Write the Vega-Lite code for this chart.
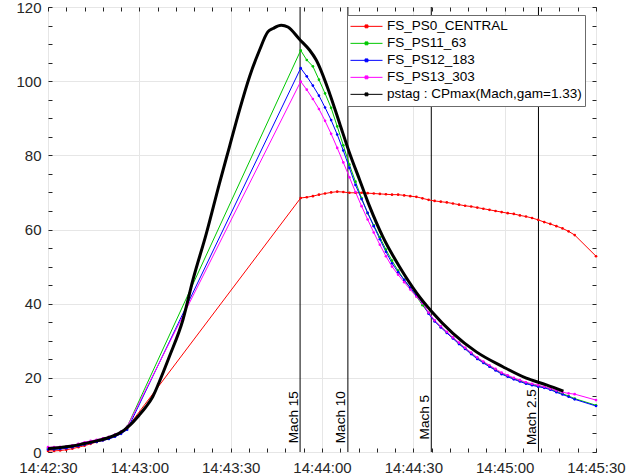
{
 "$schema": "https://vega.github.io/schema/vega-lite/v6.json",
 "width": 548,
 "height": 445,
 "autosize": "none",
 "padding": {"left": 48, "top": 7, "right": 31, "bottom": 23},
 "background": "white",
 "datasets": {
  "sensors": [
   {"t":0,"FS_PS0_CENTRAL":0.3,"FS_PS11_63":0.9,"FS_PS12_183":0.7,"FS_PS13_303":1.3},
   {"t":2,"FS_PS0_CENTRAL":0.3,"FS_PS11_63":1.0,"FS_PS12_183":0.7,"FS_PS13_303":1.3},
   {"t":4,"FS_PS0_CENTRAL":0.4,"FS_PS11_63":1.1,"FS_PS12_183":0.8,"FS_PS13_303":1.4},
   {"t":6,"FS_PS0_CENTRAL":0.6,"FS_PS11_63":1.3,"FS_PS12_183":1.0,"FS_PS13_303":1.5},
   {"t":8,"FS_PS0_CENTRAL":0.9,"FS_PS11_63":1.6,"FS_PS12_183":1.3,"FS_PS13_303":1.8},
   {"t":10,"FS_PS0_CENTRAL":1.3,"FS_PS11_63":2.0,"FS_PS12_183":1.6,"FS_PS13_303":2.2},
   {"t":12,"FS_PS0_CENTRAL":1.7,"FS_PS11_63":2.3,"FS_PS12_183":2.0,"FS_PS13_303":2.6},
   {"t":14,"FS_PS0_CENTRAL":2.2,"FS_PS11_63":2.7,"FS_PS12_183":2.4,"FS_PS13_303":3.0},
   {"t":16,"FS_PS0_CENTRAL":2.7,"FS_PS11_63":3.1,"FS_PS12_183":2.7,"FS_PS13_303":3.3},
   {"t":18,"FS_PS0_CENTRAL":3.2,"FS_PS11_63":3.5,"FS_PS12_183":3.1,"FS_PS13_303":3.7},
   {"t":20,"FS_PS0_CENTRAL":3.8,"FS_PS11_63":4.0,"FS_PS12_183":3.5,"FS_PS13_303":4.1},
   {"t":22,"FS_PS0_CENTRAL":4.5,"FS_PS11_63":4.6,"FS_PS12_183":4.1,"FS_PS13_303":4.7},
   {"t":24,"FS_PS0_CENTRAL":5.4,"FS_PS11_63":5.5,"FS_PS12_183":4.9,"FS_PS13_303":5.5},
   {"t":26,"FS_PS0_CENTRAL":6.5,"FS_PS11_63":6.8,"FS_PS12_183":6.0,"FS_PS13_303":6.8},
   {"t":83,"FS_PS0_CENTRAL":68.5,"FS_PS11_63":108.3,"FS_PS12_183":103.5,"FS_PS13_303":99.9},
   {"t":85,"FS_PS0_CENTRAL":68.7,"FS_PS11_63":105.7,"FS_PS12_183":101.3,"FS_PS13_303":97.7},
   {"t":87,"FS_PS0_CENTRAL":69.0,"FS_PS11_63":104.0,"FS_PS12_183":98.8,"FS_PS13_303":95.2},
   {"t":89,"FS_PS0_CENTRAL":69.4,"FS_PS11_63":100.4,"FS_PS12_183":96.1,"FS_PS13_303":92.5},
   {"t":91,"FS_PS0_CENTRAL":69.7,"FS_PS11_63":96.7,"FS_PS12_183":92.9,"FS_PS13_303":89.3},
   {"t":93,"FS_PS0_CENTRAL":70.0,"FS_PS11_63":92.8,"FS_PS12_183":89.5,"FS_PS13_303":85.8},
   {"t":95,"FS_PS0_CENTRAL":70.2,"FS_PS11_63":87.8,"FS_PS12_183":85.6,"FS_PS13_303":82.0},
   {"t":97,"FS_PS0_CENTRAL":70.1,"FS_PS11_63":82.7,"FS_PS12_183":81.3,"FS_PS13_303":78.1},
   {"t":99,"FS_PS0_CENTRAL":69.9,"FS_PS11_63":77.5,"FS_PS12_183":76.6,"FS_PS13_303":74.1},
   {"t":101,"FS_PS0_CENTRAL":69.9,"FS_PS11_63":72.9,"FS_PS12_183":72.0,"FS_PS13_303":70.1},
   {"t":103,"FS_PS0_CENTRAL":69.9,"FS_PS11_63":68.5,"FS_PS12_183":68.2,"FS_PS13_303":66.3},
   {"t":105,"FS_PS0_CENTRAL":69.8,"FS_PS11_63":64.4,"FS_PS12_183":64.5,"FS_PS13_303":62.7},
   {"t":107,"FS_PS0_CENTRAL":69.7,"FS_PS11_63":61.1,"FS_PS12_183":60.9,"FS_PS13_303":59.2},
   {"t":109,"FS_PS0_CENTRAL":69.6,"FS_PS11_63":57.9,"FS_PS12_183":57.4,"FS_PS13_303":55.9},
   {"t":111,"FS_PS0_CENTRAL":69.5,"FS_PS11_63":54.6,"FS_PS12_183":54.0,"FS_PS13_303":52.8},
   {"t":113,"FS_PS0_CENTRAL":69.4,"FS_PS11_63":51.6,"FS_PS12_183":50.9,"FS_PS13_303":50.0},
   {"t":115,"FS_PS0_CENTRAL":69.4,"FS_PS11_63":48.9,"FS_PS12_183":48.5,"FS_PS13_303":47.8},
   {"t":117,"FS_PS0_CENTRAL":69.2,"FS_PS11_63":46.4,"FS_PS12_183":46.4,"FS_PS13_303":45.8},
   {"t":119,"FS_PS0_CENTRAL":69.0,"FS_PS11_63":44.2,"FS_PS12_183":44.3,"FS_PS13_303":43.8},
   {"t":121,"FS_PS0_CENTRAL":68.8,"FS_PS11_63":42.0,"FS_PS12_183":42.3,"FS_PS13_303":41.9},
   {"t":123,"FS_PS0_CENTRAL":68.4,"FS_PS11_63":39.6,"FS_PS12_183":40.2,"FS_PS13_303":40.1},
   {"t":125,"FS_PS0_CENTRAL":68.0,"FS_PS11_63":37.5,"FS_PS12_183":37.3,"FS_PS13_303":37.6},
   {"t":127,"FS_PS0_CENTRAL":67.7,"FS_PS11_63":35.4,"FS_PS12_183":35.2,"FS_PS13_303":35.5},
   {"t":129,"FS_PS0_CENTRAL":67.5,"FS_PS11_63":33.8,"FS_PS12_183":33.6,"FS_PS13_303":33.9},
   {"t":131,"FS_PS0_CENTRAL":67.3,"FS_PS11_63":32.3,"FS_PS12_183":32.1,"FS_PS13_303":32.4},
   {"t":133,"FS_PS0_CENTRAL":67.0,"FS_PS11_63":30.8,"FS_PS12_183":30.6,"FS_PS13_303":30.9},
   {"t":135,"FS_PS0_CENTRAL":66.7,"FS_PS11_63":29.3,"FS_PS12_183":29.1,"FS_PS13_303":29.5},
   {"t":137,"FS_PS0_CENTRAL":66.4,"FS_PS11_63":28.0,"FS_PS12_183":27.8,"FS_PS13_303":28.1},
   {"t":139,"FS_PS0_CENTRAL":66.2,"FS_PS11_63":26.6,"FS_PS12_183":26.4,"FS_PS13_303":26.8},
   {"t":141,"FS_PS0_CENTRAL":65.9,"FS_PS11_63":25.3,"FS_PS12_183":25.1,"FS_PS13_303":25.5},
   {"t":143,"FS_PS0_CENTRAL":65.6,"FS_PS11_63":24.2,"FS_PS12_183":24.0,"FS_PS13_303":24.4},
   {"t":145,"FS_PS0_CENTRAL":65.3,"FS_PS11_63":23.2,"FS_PS12_183":23.0,"FS_PS13_303":23.4},
   {"t":147,"FS_PS0_CENTRAL":65.0,"FS_PS11_63":22.2,"FS_PS12_183":22.0,"FS_PS13_303":22.4},
   {"t":149,"FS_PS0_CENTRAL":64.7,"FS_PS11_63":21.2,"FS_PS12_183":21.0,"FS_PS13_303":21.4},
   {"t":151,"FS_PS0_CENTRAL":64.4,"FS_PS11_63":20.5,"FS_PS12_183":20.3,"FS_PS13_303":20.7},
   {"t":153,"FS_PS0_CENTRAL":64.2,"FS_PS11_63":19.8,"FS_PS12_183":19.6,"FS_PS13_303":20.0},
   {"t":155,"FS_PS0_CENTRAL":63.8,"FS_PS11_63":19.2,"FS_PS12_183":19.0,"FS_PS13_303":19.4},
   {"t":157,"FS_PS0_CENTRAL":63.5,"FS_PS11_63":18.6,"FS_PS12_183":18.4,"FS_PS13_303":18.8},
   {"t":159,"FS_PS0_CENTRAL":63.1,"FS_PS11_63":18.2,"FS_PS12_183":18.0,"FS_PS13_303":18.4},
   {"t":161,"FS_PS0_CENTRAL":62.6,"FS_PS11_63":17.8,"FS_PS12_183":17.6,"FS_PS13_303":18.0},
   {"t":163,"FS_PS0_CENTRAL":62.0,"FS_PS11_63":17.5,"FS_PS12_183":17.3,"FS_PS13_303":17.6},
   {"t":165,"FS_PS0_CENTRAL":61.5,"FS_PS11_63":17.0,"FS_PS12_183":16.8,"FS_PS13_303":17.1},
   {"t":167,"FS_PS0_CENTRAL":60.9,"FS_PS11_63":16.3,"FS_PS12_183":16.1,"FS_PS13_303":16.6},
   {"t":169,"FS_PS0_CENTRAL":60.3,"FS_PS11_63":15.7,"FS_PS12_183":15.5,"FS_PS13_303":16.1},
   {"t":171,"FS_PS0_CENTRAL":59.5,"FS_PS11_63":15.1,"FS_PS12_183":14.9,"FS_PS13_303":15.8},
   {"t":173,"FS_PS0_CENTRAL":58.5,"FS_PS11_63":14.4,"FS_PS12_183":14.2,"FS_PS13_303":15.6},
   {"t":180,"FS_PS0_CENTRAL":52.8,"FS_PS11_63":12.6,"FS_PS12_183":12.4,"FS_PS13_303":14.0}
  ],
  "pstag": [
   {"t":0,"v":0.9},{"t":4,"v":1.2},{"t":8,"v":1.6},{"t":12,"v":2.3},{"t":16,"v":3.0},
   {"t":20,"v":3.9},{"t":23,"v":4.9},{"t":25,"v":5.9},{"t":27,"v":7.3},{"t":30,"v":10.0},
   {"t":32,"v":12.0},{"t":34.4,"v":14.9},{"t":36.4,"v":18.6},{"t":40,"v":26.0},{"t":44.3,"v":35.6},
   {"t":47.6,"v":46.4},{"t":52,"v":58.9},{"t":56.3,"v":72.4},{"t":59.6,"v":82.3},{"t":62.9,"v":92.2},
   {"t":66.2,"v":101.2},{"t":69.5,"v":108.4},{"t":72.2,"v":113.3},{"t":73.9,"v":114.2},{"t":76.6,"v":115.1},
   {"t":78.8,"v":114.6},{"t":82.6,"v":111.3},{"t":85.9,"v":108.4},{"t":88.1,"v":105.7},{"t":92.5,"v":96.7},
   {"t":95.8,"v":88.6},{"t":99.1,"v":80.5},{"t":102.4,"v":73.3},{"t":105.7,"v":66.1},{"t":110,"v":58.0},
   {"t":115.5,"v":49.9},{"t":121,"v":43.0},{"t":126,"v":37.9},{"t":133,"v":32.0},{"t":140.7,"v":27.0},
   {"t":149.4,"v":23.0},{"t":157.1,"v":19.9},{"t":163.7,"v":18.1},{"t":169.3,"v":16.4}
  ],
  "mach": [
   {"label":"Mach 15","t":82.8},
   {"label":"Mach 10","t":98.5},
   {"label":"Mach 5","t":125.9},
   {"label":"Mach 2.5","t":161.1}
  ]
 },
 "layer": [
  {
   "data": {"name": "mach"},
   "mark": {"type": "rule", "color": "#000000", "strokeWidth": 1},
   "encoding": {"x": {"field": "t", "type": "quantitative", "axis": null, "scale": {"domain": [0, 180]}}}
  },
  {
   "data": {"name": "sensors"},
   "transform": [{"fold": ["FS_PS0_CENTRAL", "FS_PS11_63", "FS_PS12_183", "FS_PS13_303"], "as": ["series", "value"]}],
   "mark": {"type": "line", "strokeWidth": 1},
   "encoding": {
    "x": {"field": "t", "type": "quantitative", "scale": {"domain": [0, 180]},
     "axis": {"orient": "bottom", "title": null, "values": [0, 30, 60, 90, 120, 150, 180],
      "labelExpr": "['14:42:30','14:43:00','14:43:30','14:44:00','14:44:30','14:45:00','14:45:30'][round(datum.value/30)]",
      "grid": true, "ticks": false, "domain": false, "labelPadding": 8, "labelFlush": false, "labelOverlap": false, "labelBound": false}},
    "y": {"field": "value", "type": "quantitative", "scale": {"domain": [0, 120]},
     "axis": {"orient": "left", "title": null, "values": [0, 20, 40, 60, 80, 100, 120],
      "grid": true, "ticks": false, "domain": false, "labelPadding": 7, "labelFlush": false, "labelOverlap": false}},
    "color": {"field": "series", "type": "nominal",
     "scale": {"domain": ["FS_PS0_CENTRAL", "FS_PS11_63", "FS_PS12_183", "FS_PS13_303", "pstag : CPmax(Mach,gam=1.33)"],
      "range": ["#ff0000", "#00c800", "#0000ff", "#ff00ff", "#000000"]},
     "legend": {"title": null, "orient": "none", "legendX": 299, "legendY": 8}}
   }
  },
  {
   "data": {"name": "sensors"},
   "transform": [{"fold": ["FS_PS0_CENTRAL", "FS_PS11_63", "FS_PS12_183", "FS_PS13_303"], "as": ["series", "value"]}],
   "mark": {"type": "point", "filled": true, "size": 7, "opacity": 1},
   "encoding": {
    "x": {"field": "t", "type": "quantitative",
     "axis": {"orient": "bottom", "title": null, "values": [0,6,12,18,24,30,36,42,48,54,60,66,72,78,84,90,96,102,108,114,120,126,132,138,144,150,156,162,168,174,180],
      "labels": false, "grid": false, "domain": false, "ticks": true, "tickSize": 4, "offset": -4}},
    "y": {"field": "value", "type": "quantitative",
     "axis": {"orient": "left", "title": null, "values": [0,5,10,15,20,25,30,35,40,45,50,55,60,65,70,75,80,85,90,95,100,105,110,115,120],
      "labels": false, "grid": false, "domain": false, "ticks": true, "tickSize": 4, "offset": -4}},
    "color": {"field": "series", "type": "nominal"}
   }
  },
  {
   "data": {"name": "pstag"},
   "mark": {"type": "line", "strokeWidth": 3, "interpolate": "monotone"},
   "encoding": {
    "x": {"field": "t", "type": "quantitative",
     "axis": {"orient": "top", "title": null, "values": [0,6,12,18,24,30,36,42,48,54,60,66,72,78,84,90,96,102,108,114,120,126,132,138,144,150,156,162,168,174,180],
      "labels": false, "grid": false, "domain": false, "ticks": true, "tickSize": 4, "offset": -4}},
    "y": {"field": "v", "type": "quantitative",
     "axis": {"orient": "right", "title": null, "values": [0,5,10,15,20,25,30,35,40,45,50,55,60,65,70,75,80,85,90,95,100,105,110,115,120],
      "labels": false, "grid": false, "domain": false, "ticks": true, "tickSize": 4, "offset": -4}},
    "color": {"datum": "pstag : CPmax(Mach,gam=1.33)"}
   }
  },
  {
   "data": {"name": "mach"},
   "mark": {"type": "text", "angle": 270, "align": "center", "baseline": "alphabetic", "dy": -2.5, "fontSize": 13.6, "font": "Liberation Sans", "color": "#000000"},
   "encoding": {
    "x": {"field": "t", "type": "quantitative", "axis": null},
    "y": {"datum": 9.4, "type": "quantitative", "axis": null},
    "text": {"field": "label"}
   }
  }
 ],
 "resolve": {"axis": {"x": "independent", "y": "independent"}},
 "config": {
  "view": {"stroke": "#262626", "strokeWidth": 1},
  "axis": {"labelFont": "Liberation Sans", "labelFontSize": 15, "labelColor": "#262626", "tickColor": "#262626", "gridColor": "#e6e6e6", "gridWidth": 1, "gridOpacity": 1},
  "legend": {"symbolType": "M-1,0H1M-0.09,-0.09H0.09V0.09H-0.09Z", "symbolSize": 1024, "symbolStrokeWidth": 1, "clipHeight": 16.7, "rowPadding": 0, "labelOffset": 4, "labelFontSize": 13.5, "labelFont": "Liberation Sans", "labelColor": "#000000", "fillColor": "#ffffff", "strokeColor": "#6b6b6b", "padding": 3, "labelLimit": 0, "cornerRadius": 0}
 }
}
